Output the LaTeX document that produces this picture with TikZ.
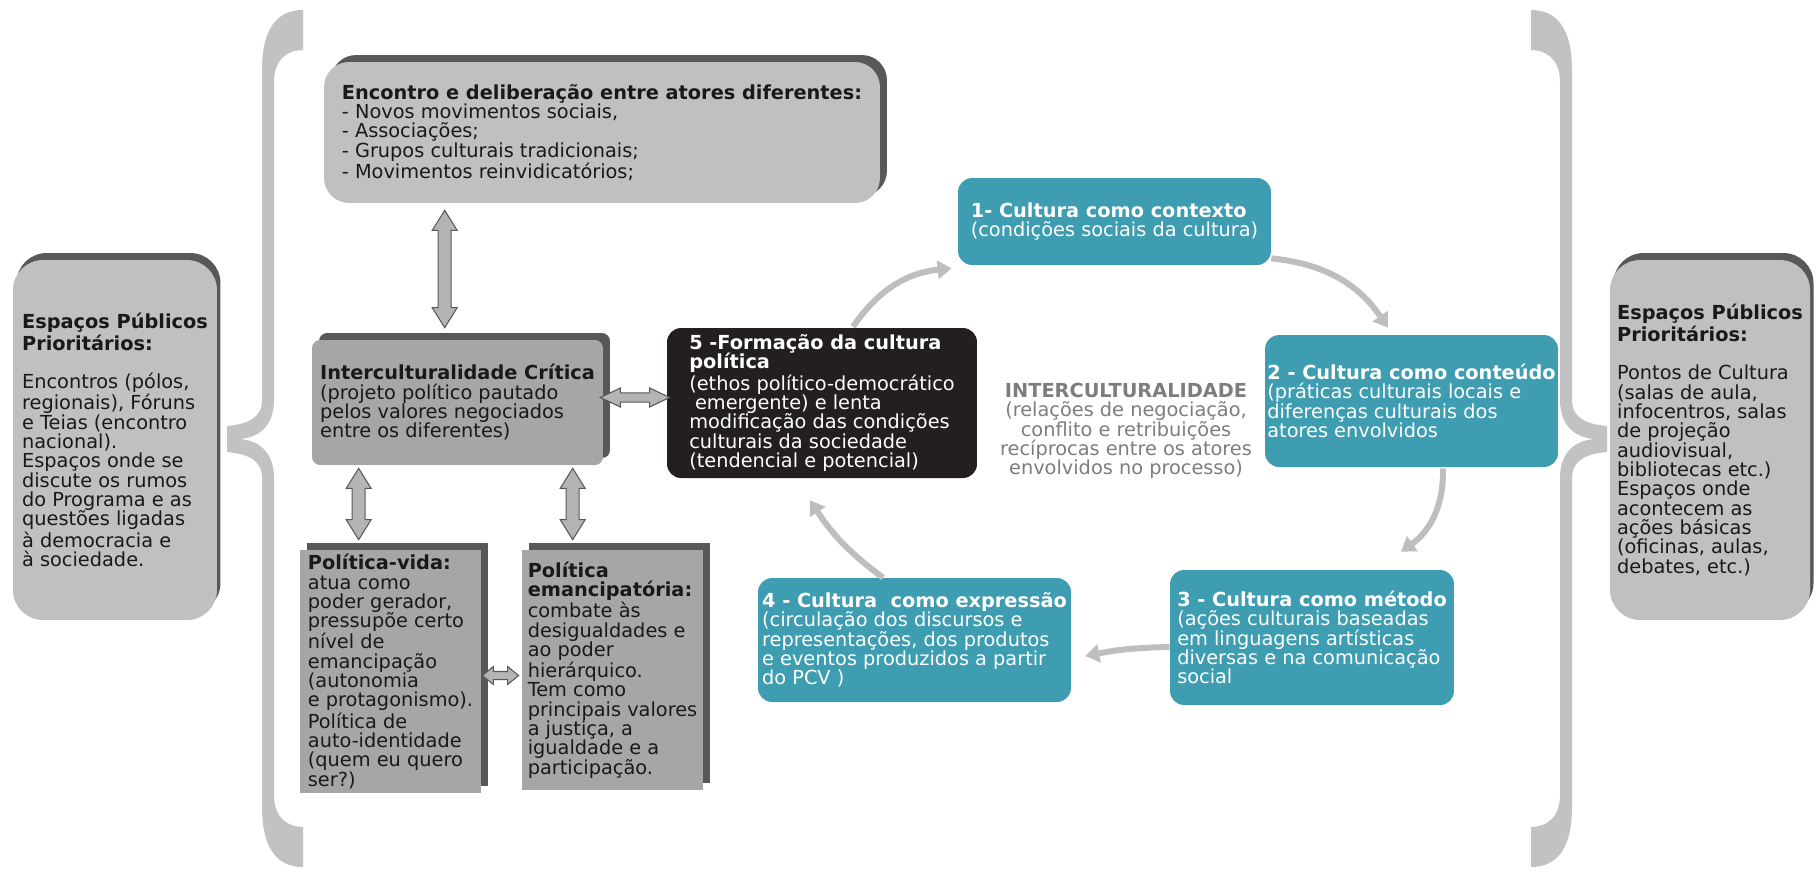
\documentclass[tikz,border=0pt]{standalone}
\usepackage{fontspec}
\setmainfont{DejaVu Sans}
\usetikzlibrary{arrows.meta,calc,shadows}
\definecolor{lightbox}{RGB}{192,192,192}
\definecolor{midgray}{RGB}{166,166,166}
\definecolor{shadowgray}{RGB}{88,88,88}
\definecolor{nearblack}{RGB}{35,31,32}
\definecolor{myteal}{RGB}{62,157,176}
\definecolor{textgray}{RGB}{125,125,125}
\definecolor{boxtext}{RGB}{25,25,25}
\definecolor{arrowgray}{RGB}{190,190,190}
\definecolor{dblgray}{RGB}{180,180,180}
\definecolor{bracegray}{RGB}{194,194,194}
\newcommand\boxfont{\fontsize{11}{11}\selectfont}
% block double arrows (vertical / horizontal)
\newcommand\vdbl[2]{\filldraw[dblarrow] let \p1=(#1), \p2=(#2) in
  (\x1,\y1) -- (\x1+7.1pt,\y1-11.4pt) -- (\x1+3.7pt,\y1-11.4pt) -- (\x1+3.7pt,\y2+11.4pt)
  -- (\x1+7.1pt,\y2+11.4pt) -- (\x1,\y2) -- (\x1-7.1pt,\y2+11.4pt) -- (\x1-3.7pt,\y2+11.4pt)
  -- (\x1-3.7pt,\y1-11.4pt) -- (\x1-7.1pt,\y1-11.4pt) -- cycle;}
\newcommand\hdbl[5]{\filldraw[dblarrow] let \p1=(#1), \p2=(#2) in
  (\x1,\y1) -- (\x1+#3,\y1+#4) -- (\x1+#3,\y1+#5) -- (\x2-#3,\y1+#5) -- (\x2-#3,\y1+#4)
  -- (\x2,\y1) -- (\x2-#3,\y1-#4) -- (\x2-#3,\y1-#5) -- (\x1+#3,\y1-#5) -- (\x1+#3,\y1-#4) -- cycle;}
\tikzset{
  panel/.style={align=left, inner sep=0pt, font=\boxfont},
  shadowed/.style={general shadow={fill=shadowgray, shadow xshift=#1, shadow yshift=0.14cm}},
  sidebox/.style={panel, text=boxtext, fill=lightbox, rounded corners=0.6cm, shadowed=0.07cm,
    minimum width=4.08cm, minimum height=7.2cm},
  greybox/.style={panel, text=boxtext, shadowed=0.14cm},
  cultbox/.style={panel, text=white, fill=myteal, rounded corners=0.28cm},
  dblarrow/.style={fill=dblgray, draw=shadowgray, line width=0.6pt},
  cyc/.style={arrowgray, line width=0.12cm, -{Triangle[length=0.28cm,width=0.36cm]}}
}

\begin{document}
\begin{tikzpicture}[x=0.02cm, y=-0.02cm]
\useasboundingbox (0,0) rectangle (1817,870);
% braces
\foreach \s/\m in {0/1,1834/-1}
  {\fill[bracegray, shift={(\s,0)}, xscale=\m] (303,10) .. controls (276,10) and (262,30) .. (262,70)
    -- (262,400) .. controls (262,418) and (248,424) .. (227,426)
    -- (227,452) .. controls (248,454) and (262,460) .. (262,478)
    -- (262,807) .. controls (262,847) and (276,867) .. (303,867)
    -- (303,827) .. controls (288,827) and (274,818) .. (274,795)
    -- (274,478) .. controls (274,455) and (262,441) .. (240,439)
    .. controls (262,437) and (274,423) .. (274,400)
    -- (274,82) .. controls (274,59) and (288,50) .. (303,50) -- cycle;}
% side panels
\node[sidebox] (lbox) at (115,440) {\textbf{Espaços Públicos}\\\textbf{Prioritários:}\\[11pt]
  Encontros (pólos,\\regionais), Fóruns\\e Teias (encontro\\nacional).\\Espaços onde se\\
  discute os rumos\\do Programa e as\\questões ligadas\\à democracia e\\à sociedade.};
\node[sidebox, minimum width=4cm] (rbox) at (1710,440) {\textbf{Espaços Públicos}\\\textbf{Prioritários:}\\[11pt]
  Pontos de Cultura\\(salas de aula,\\infocentros, salas\\de projeção\\audiovisual,\\bibliotecas etc.)\\
  Espaços onde\\acontecem as\\ações básicas\\(oficinas, aulas,\\debates, etc.)};
% grey boxes
\node[greybox, fill=lightbox, rounded corners=0.5cm, minimum width=11.12cm, minimum height=2.82cm]
  (actors) at (602,132.5) {\textbf{Encontro e deliberação entre atores diferentes:}\\- Novos movimentos sociais,\\
  - Associações;\\- Grupos culturais tradicionais;\\- Movimentos reinvidicatórios;};
\node[greybox, fill=midgray, rounded corners=0.16cm, minimum width=5.82cm, minimum height=2.5cm]
  (crit) at (457.5,402.5) {\textbf{Interculturalidade Crítica}\\(projeto político pautado\\
  pelos valores negociados\\entre os diferentes)};
\node[greybox, fill=midgray, minimum width=3.62cm, minimum height=4.86cm] (polvida) at (390.5,671.5)
  {\textbf{Política-vida:}\\atua como\\poder gerador,\\pressupõe certo\\nível de\\emancipação\\(autonomia\\
  e protagonismo).\\Política de\\auto-identidade\\(quem eu quero\\ser?)};
\node[greybox, fill=midgray, minimum width=3.62cm, minimum height=4.8cm] (polemanc) at (612.5,670)
  {\textbf{Política}\\\textbf{emancipatória:}\\combate às\\desigualdades e\\ao poder\\hierárquico.\\
  Tem como\\principais valores\\a justiça, a\\igualdade e a\\participação.};
\node[panel, fill=nearblack, text=white, rounded corners=0.28cm, minimum width=6.2cm, minimum height=3cm]
  (formacao) at (822,403) {\textbf{5 -Formação da cultura}\\\textbf{política}\\(ethos político-democrático\\
  \hspace*{0.3em}emergente) e lenta\\modificação das condições\\culturais da sociedade\\(tendencial e potencial)};
% cycle boxes
\node[cultbox, minimum width=6.26cm, minimum height=1.74cm] (contexto) at (1114.5,221.5)
  {\textbf{1- Cultura como contexto}\\(condições sociais da cultura)};
\node[cultbox, minimum width=5.86cm, minimum height=2.64cm] (conteudo) at (1411.5,401)
  {\textbf{2 - Cultura como conteúdo}\\(práticas culturais locais e\\diferenças culturais dos\\atores envolvidos};
\node[cultbox, minimum width=5.68cm, minimum height=2.7cm] (metodo) at (1312,637.5)
  {\textbf{3 - Cultura como método}\\(ações culturais baseadas\\em linguagens artísticas\\
  diversas e na comunicação\\social};
\node[cultbox, minimum width=6.26cm, minimum height=2.48cm] (expressao) at (914.5,640)
  {\textbf{4 - Cultura\ \ como expressão}\\(circulação dos discursos e\\representações, dos produtos\\
  e eventos produzidos a partir\\do PCV )};
\node[panel, align=center, text=textgray] (inter) at (1126,431)
  {\textbf{INTERCULTURALIDADE}\\(relações de negociação,\\conflito e retribuições\\
  recíprocas entre os atores\\envolvidos no processo)};
% double arrows
\coordinate (ta) at ($(actors.south west)+(121,7)$);
\coordinate (tb) at ($(crit.north west)+(133,-12)$);
\coordinate (la) at ($(crit.south west)+(47,3)$);
\coordinate (lb) at ($(polvida.north west)+(59,-10)$);
\coordinate (ra) at ($(crit.south west)+(261,3)$);
\coordinate (rb) at ($(polemanc.north west)+(51,-10)$);
\coordinate (ha) at ($(crit.east)+(-3,-5)$);
\coordinate (hb) at ($(formacao.west)+(3,-6)$);
\coordinate (pa) at ($(polvida.east)+(1,4)$);
\coordinate (pb) at ($(polemanc.west)+(-3,5)$);
\vdbl{ta}{tb}
\vdbl{la}{lb}
\vdbl{ra}{rb}
\hdbl{ha}{hb}{11.4pt}{5.4pt}{2.6pt}
\hdbl{pa}{pb}{6.3pt}{5.1pt}{2.3pt}
% cycle arrows
\coordinate (s1) at ($(formacao.north)+(31,-1)$);
\coordinate (e1) at ($(contexto.south west)+(-6,3)$);
\coordinate (s2) at ($(contexto.south east)+(0,-7)$);
\coordinate (e2) at ($(conteudo.north)+(-23.5,-7)$);
\coordinate (s3) at ($(conteudo.south)+(31.5,1)$);
\coordinate (e3) at ($(metodo.north)+(89,-18)$);
\coordinate (s4) at ($(metodo.west)+(0,9.5)$);
\coordinate (e4) at ($(expressao.east)+(14,16)$);
\coordinate (s5) at ($(expressao.north)+(-31.5,0)$);
\coordinate (e5) at ($(formacao.south)+(-12,22)$);
\foreach \a/\b/\bb in {s1/e1/25,s2/e2/25,s3/e3/28,s4/e4/-5,s5/e5/10}
  {\draw[cyc] (\a) to[bend left=\bb] (\b);}
\end{tikzpicture}
\end{document}
